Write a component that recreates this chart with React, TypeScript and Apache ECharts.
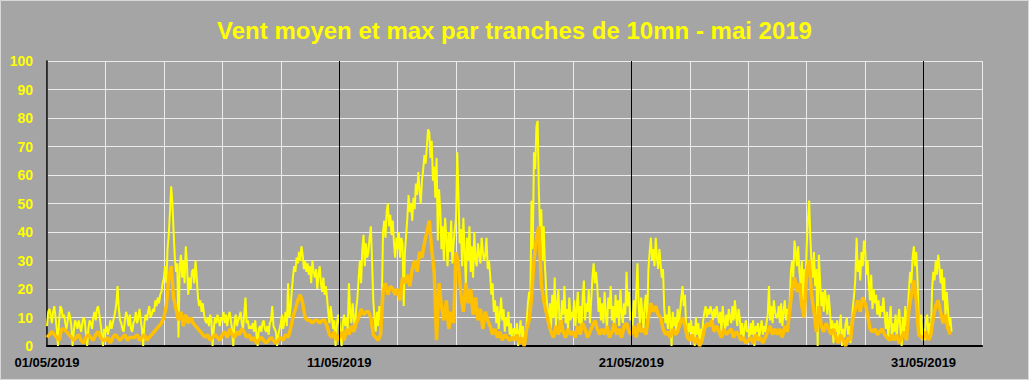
import React, { useEffect, useRef } from "react";
import * as echarts from "echarts";

// Hourly maximum wind (km/h), one row of 24 values per day, 01/05 .. 31/05/2019
const maxWind: number[] = [
  7, 12, 13, 11, 8, 12, 14, 10, 6, 0, 9, 14, 13, 10, 11, 8, 6, 9, 12, 10, 7, 0, 5, 9,
  8, 6, 9, 7, 5, 8, 10, 9, 4, 0, 6, 9, 8, 6, 10, 12, 9, 13, 14, 11, 8, 4, 0, 6,
  5, 7, 4, 6, 9, 6, 8, 10, 12, 15, 21, 13, 9, 8, 6, 5, 9, 12, 10, 7, 11, 6, 5, 8,
  9, 12, 8, 10, 13, 9, 6, 0, 8, 11, 9, 12, 14, 10, 11, 13, 12, 16, 14, 17, 15, 18, 19, 22,
  24, 28, 22, 34, 39, 47, 56, 50, 40, 31, 26, 29, 3, 28, 32, 24, 30, 22, 35, 28, 18, 24, 20, 26,
  27, 22, 30, 24, 17, 14, 16, 12, 15, 11, 9, 8, 10, 7, 11, 9, 0, 6, 10, 8, 11, 9, 7, 10,
  9, 12, 8, 11, 7, 10, 12, 9, 6, 0, 8, 11, 7, 9, 10, 12, 8, 6, 11, 17, 8, 9, 6, 7,
  6, 8, 5, 9, 4, 0, 6, 7, 5, 8, 9, 6, 5, 7, 4, 8, 9, 14, 7, 6, 5, 0, 4, 6,
  8, 11, 6, 9, 12, 7, 22, 10, 13, 19, 24, 28, 26, 31, 29, 33, 30, 35, 32, 27, 30, 26, 29, 25,
  28, 22, 30, 26, 24, 27, 20, 25, 28, 22, 19, 24, 18, 21, 17, 12, 8, 14, 10, 6, 9, 0, 7, 11,
  9, 5, 0, 8, 11, 7, 10, 6, 22, 12, 8, 15, 10, 6, 13, 17, 24, 30, 22, 34, 39, 28, 36, 31,
  33, 38, 42, 30, 16, 10, 5, 12, 7, 14, 9, 15, 40, 44, 38, 47, 50, 42, 46, 39, 44, 36, 31, 38,
  34, 40, 31, 38, 36, 14, 33, 39, 45, 53, 47, 50, 44, 52, 48, 57, 53, 61, 55, 50, 58, 62, 67, 64,
  70, 76, 75, 66, 72, 58, 63, 52, 66, 37, 55, 48, 34, 42, 30, 45, 38, 28, 40, 33, 44, 29, 36, 41,
  45, 68, 52, 36, 41, 28, 45, 33, 22, 38, 30, 42, 26, 35, 24, 40, 30, 28, 36, 32, 29, 38, 33, 30,
  32, 38, 27, 30, 25, 18, 22, 12, 16, 8, 14, 6, 11, 17, 9, 13, 5, 10, 7, 12, 4, 8, 2, 6,
  6, 3, 8, 0, 5, 9, 2, 7, 0, 4, 8, 15, 19, 16, 51, 34, 68, 62, 77, 79, 55, 40, 48, 30,
  42, 28, 20, 12, 8, 15, 6, 18, 10, 24, 7, 14, 20, 9, 5, 16, 11, 21, 8, 13, 6, 17, 9, 12,
  10, 16, 7, 13, 19, 8, 14, 6, 17, 23, 9, 15, 12, 20, 8, 16, 24, 29, 22, 26, 21, 12, 17, 9,
  15, 8, 19, 11, 6, 17, 13, 21, 9, 14, 5, 18, 10, 16, 7, 20, 12, 8, 15, 11, 26, 14, 19, 9,
  12, 7, 16, 10, 19, 29, 14, 8, 17, 11, 6, 15, 18, 9, 27, 33, 38, 30, 34, 28, 38, 31, 27, 34,
  29, 24, 27, 13, 8, 11, 6, 14, 9, 0, 12, 7, 10, 5, 13, 8, 12, 17, 21, 14, 18, 6, 3, 8,
  5, 9, 2, 7, 0, 10, 4, 8, 1, 6, 3, 9, 12, 14, 10, 13, 11, 14, 12, 9, 13, 10, 14, 11,
  8, 12, 5, 14, 9, 6, 11, 7, 13, 10, 8, 14, 9, 16, 11, 7, 13, 10, 4, 8, 3, 6, 9, 5,
  6, 3, 8, 4, 9, 0, 7, 5, 8, 3, 6, 9, 4, 7, 5, 8, 11, 21, 9, 14, 8, 16, 12, 10,
  10, 14, 8, 15, 7, 12, 16, 9, 13, 11, 15, 26, 30, 24, 37, 33, 28, 35, 26, 22, 30, 16, 27, 19,
  35, 44, 51, 38, 29, 24, 33, 21, 27, 0, 32, 23, 14, 19, 12, 20, 16, 11, 18, 13, 6, 9, 1, 8,
  5, 9, 2, 7, 11, 0, 6, 3, 8, 10, 4, 7, 1, 9, 14, 18, 24, 38, 26, 30, 23, 33, 28, 37,
  34, 25, 30, 22, 16, 25, 13, 20, 15, 18, 11, 16, 10, 14, 12, 17, 11, 6, 12, 3, 9, 14, 2, 8,
  5, 11, 3, 9, 13, 6, 0, 10, 4, 14, 7, 12, 20, 26, 22, 31, 35, 28, 33, 24, 9, 4, 11, 2,
  6, 2, 9, 11, 4, 8, 3, 20, 26, 23, 30, 25, 32, 28, 22, 27, 16, 24, 10, 19, 13, 7, 10, 5,
];

// Two-hourly mean wind (km/h), one row of 12 values per day
const meanWind: number[] = [
  3, 4, 5, 4, 3, 2, 6, 6, 5, 4, 3, 2,
  3, 4, 2, 1, 3, 4, 3, 2, 4, 5, 3, 2,
  2, 3, 1, 3, 4, 3, 2, 3, 4, 2, 3, 3,
  3, 4, 2, 3, 4, 2, 3, 4, 5, 6, 7, 8,
  10, 14, 24, 28, 17, 13, 9, 12, 7, 11, 8, 10,
  8, 7, 6, 5, 4, 3, 4, 2, 3, 4, 3, 2,
  4, 5, 3, 6, 4, 3, 5, 4, 6, 5, 3, 4,
  2, 3, 1, 2, 3, 2, 1, 2, 3, 2, 1, 2,
  3, 2, 4, 3, 6, 10, 13, 16, 18, 15, 10, 9,
  9, 8, 9, 9, 8, 9, 9, 7, 4, 3, 5, 2,
  3, 5, 2, 6, 4, 7, 5, 8, 10, 13, 11, 12,
  12, 10, 4, 3, 2, 4, 19, 22, 18, 21, 20, 18,
  20, 16, 24, 22, 25, 21, 27, 30, 26, 33, 31, 36,
  40, 44, 34, 26, 2, 22, 14, 9, 16, 6, 12, 8,
  33, 28, 18, 12, 22, 15, 20, 11, 17, 9, 13, 6,
  12, 9, 7, 4, 6, 3, 5, 2, 4, 3, 2, 3,
  2, 4, 1, 3, 0, 6, 9, 17, 30, 38, 42, 22,
  16, 12, 8, 5, 3, 7, 4, 9, 5, 3, 6, 4,
  5, 3, 7, 4, 8, 6, 3, 5, 7, 9, 6, 4,
  6, 4, 7, 3, 5, 8, 4, 6, 3, 7, 8, 5,
  4, 7, 3, 8, 5, 6, 4, 10, 15, 12, 14, 11,
  10, 6, 4, 5, 3, 6, 4, 5, 8, 10, 7, 3,
  2, 4, 1, 3, 0, 2, 6, 8, 7, 9, 5, 7,
  5, 3, 6, 4, 5, 6, 3, 5, 4, 2, 3, 1,
  2, 3, 1, 4, 2, 3, 1, 3, 5, 7, 4, 6,
  4, 6, 3, 7, 5, 12, 20, 24, 19, 22, 14, 10,
  26, 30, 18, 12, 5, 14, 7, 5, 8, 6, 4, 6,
  3, 1, 4, 2, 0, 3, 2, 10, 13, 16, 12, 17,
  15, 11, 6, 5, 6, 4, 5, 6, 4, 3, 2, 4,
  2, 4, 1, 3, 5, 2, 13, 18, 23, 16, 4, 3,
  3, 5, 2, 4, 10, 14, 16, 12, 8, 11, 6, 4,
];

const titleText = "Vent moyen et max par tranches de 10mn - mai 2019";
const monthLabel = "05/2019";
const majorDays = [10, 20, 30];

const pad2 = (n: number) => (n < 10 ? "0" + n : "" + n);

export default function App() {
  const ref = useRef<HTMLDivElement>(null);

  useEffect(() => {
    document.body.style.margin = "0";
    if (!ref.current) return;
    const chart = echarts.init(ref.current, undefined, { renderer: "svg" });

    const maxData = maxWind.map((v, i) => [i / 24, v]);
    const meanData = meanWind.map((v, i) => [i / 12, v]);

    chart.setOption({
      animation: false,
      backgroundColor: "#a5a5a5",
      textStyle: { fontFamily: "Liberation Sans, Arial, sans-serif" },
      title: {
        text: titleText,
        left: "center",
        top: 13,
        textStyle: {
          color: "#ffff00",
          fontSize: 24,
          fontWeight: "bold",
          fontFamily: "Liberation Sans, Arial, sans-serif",
        },
      },
      graphic: [
        {
          type: "rect",
          shape: { x: 0.5, y: 0.5, width: 1028, height: 379 },
          style: { fill: "none", stroke: "#d9d9d9", lineWidth: 1 },
          silent: true,
        },
      ],
      grid: { left: 47, right: 47, top: 61, bottom: 34, containLabel: false },
      xAxis: {
        type: "value",
        min: 0,
        max: 32,
        interval: 2,
        axisLine: { show: true, lineStyle: { color: "#000", width: 2 } },
        axisTick: { show: false },
        splitLine: { show: true, lineStyle: { color: "#ececec", width: 1 } },
        axisLabel: {
          color: "#000",
          fontSize: 13,
          fontWeight: "bold",
          margin: 10,
          formatter: (v: number) =>
            v % 10 === 0 && v <= 30 ? pad2(v + 1) + "/" + monthLabel : "",
        },
      },
      yAxis: {
        type: "value",
        min: 0,
        max: 100,
        interval: 10,
        axisLine: { show: true, lineStyle: { color: "#000", width: 1.5 } },
        axisTick: { show: false },
        splitLine: { show: true, lineStyle: { color: "#ececec", width: 1 } },
        axisLabel: {
          color: "#ffff00",
          fontSize: 14,
          fontWeight: "bold",
          margin: 14,
        },
      },
      series: [
        {
          type: "line",
          data: [],
          z: 1,
          silent: true,
          markLine: {
            silent: true,
            symbol: ["none", "none"],
            label: { show: false },
            lineStyle: { color: "#000", width: 1, type: "solid" },
            data: majorDays.map((d) => ({ xAxis: d })),
          },
        },
        {
          name: "max",
          type: "line",
          data: maxData,
          showSymbol: false,
          symbol: "none",
          z: 2,
          lineStyle: { color: "#ffff00", width: 2 },
        },
        {
          name: "moyen",
          type: "line",
          data: meanData,
          showSymbol: false,
          symbol: "none",
          z: 3,
          lineStyle: { color: "#ffc000", width: 3.5, join: "bevel" },
        },
      ],
    });

    return () => chart.dispose();
  }, []);

  return <div ref={ref} style={{ width: 1029, height: 380 }} />;
}
